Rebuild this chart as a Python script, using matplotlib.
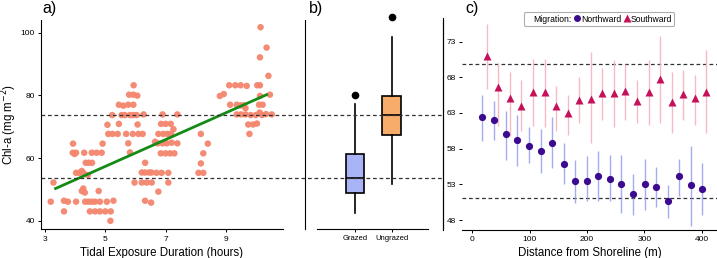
import numpy as np
import matplotlib
matplotlib.use("Agg")
import matplotlib.pyplot as plt
from matplotlib.lines import Line2D
import matplotlib.transforms as mtransforms

plt.rcParams['font.family'] = ['Liberation Sans', 'DejaVu Sans']

# ---------------- data: panel a ----------------
exposure_hours = [
    3.19, 3.28, 3.63, 3.63, 3.76, 3.93, 3.92, 3.98, 4.03, 4.03,
    4.03, 4.14, 4.22, 4.27, 4.30, 4.35, 4.45, 4.56, 4.22, 4.27, 4.32, 4.42,
    4.33, 4.44, 4.55, 4.66, 4.82, 5.05, 4.55, 4.71, 4.88, 4.91, 4.78,
    4.49, 4.66, 4.82, 5.00, 5.18, 5.17, 5.27,
    5.07, 5.10, 5.24, 5.41, 5.23, 5.54, 5.65, 5.82, 5.93, 6.04,
    5.45, 5.60, 5.76, 5.93, 5.45, 5.69, 5.79, 5.93, 6.06, 5.94,
    5.76, 5.82, 6.07, 5.91, 6.10, 6.24, 6.27,
    5.97, 6.21, 6.37, 6.54, 6.32, 6.21, 6.32, 6.45, 6.53, 6.32, 6.52,
    6.65, 6.70, 6.87, 6.76, 6.76, 6.92, 7.06, 6.85, 7.00, 7.17,
    6.90, 7.39, 6.84, 7.00, 7.15, 7.29, 6.74, 6.90, 7.04, 7.20, 7.39,
    7.09, 7.09, 7.18, 7.26,
    8.09, 8.25, 8.17, 8.17, 8.25, 8.40,
    8.80, 8.93, 9.11, 9.31, 9.49, 9.69, 10.04, 10.13,
    9.14, 9.36, 9.49, 9.60, 10.10, 10.22,
    9.36, 9.50, 9.65, 9.82, 9.99, 10.12, 10.20, 10.33, 10.52,
    9.65, 9.74, 9.90, 10.03, 9.78, 10.13, 10.41, 10.46, 10.15, 10.35, 10.13,
]
chla_values = [
    46.1, 52.2, 46.4, 43.0, 46.1, 64.6, 61.7, 61.3, 61.7, 46.1,
    55.3, 55.3, 55.9, 55.3, 61.7, 58.5, 58.5, 58.5, 49.5, 50.3, 49.0, 54.6,
    46.1, 46.1, 46.1, 46.1, 46.1, 46.1, 61.7, 61.7, 61.7, 64.6, 49.5,
    43.0, 43.0, 43.0, 43.0, 43.0, 40.0, 46.4,
    70.6, 67.7, 67.7, 67.7, 73.7, 73.7, 73.7, 73.7, 73.7, 73.7,
    77.0, 76.7, 77.0, 77.0, 70.9, 67.7, 80.2, 80.2, 79.9, 83.2,
    64.7, 61.8, 70.7, 67.7, 67.7, 67.7, 73.9,
    52.2, 52.2, 52.2, 52.2, 58.5, 55.4, 55.4, 55.4, 55.4, 46.4, 45.8,
    65.2, 55.3, 55.3, 49.3, 67.7, 67.7, 67.7, 70.9, 70.9, 70.9,
    73.9, 73.9, 61.5, 61.5, 61.5, 61.5, 64.7, 64.7, 64.7, 64.9, 64.7,
    55.3, 52.2, 67.7, 69.2,
    55.3, 55.3, 58.3, 67.7, 61.5, 64.6,
    79.8, 80.4, 83.2, 83.2, 83.2, 83.0, 83.2, 83.2,
    77.0, 77.0, 76.8, 76.8, 77.0, 77.0,
    73.9, 73.9, 73.9, 73.7, 73.7, 74.5, 73.7, 74.0, 73.9,
    75.9, 70.7, 70.7, 71.0, 67.7, 79.8, 86.2, 80.2, 101.7, 95.2, 92.1,
]
fit_hours = [3.35, 10.35]
fit_chla = [50.3, 80.2]
reference_levels_ab = [73.7, 53.8]

# ---------------- data: panel b ----------------
groups = ["Grazed", "Ungrazed"]
box_stats = [
    dict(label="Grazed", med=53.8, q1=48.9, q3=61.3, whislo=42.6, whishi=77.1, fliers=[80.1]),
    dict(label="Ungrazed", med=73.7, q1=67.4, q3=79.9, whislo=51.7, whishi=98.5, fliers=[104.9]),
]
box_colors = ["#A9B4F6", "#F8AC6C"]

# ---------------- data: panel c ----------------
north_distance = [17.5, 38, 58, 78.5, 99, 119, 139.5, 159.5, 179, 199.5,
                  219.5, 240, 260, 280, 300.5, 320, 340.5, 360.5, 380.5, 401]
north_mean = [62.4, 62.0, 60.0, 59.2, 58.4, 57.7, 58.8, 55.9, 53.4, 53.5,
              54.2, 53.8, 53.1, 51.7, 53.0, 52.6, 50.6, 54.1, 52.9, 52.3]
north_low = [59.1, 59.2, 56.4, 55.6, 56.0, 54.6, 55.3, 53.0, 50.4, 50.6,
             50.6, 50.6, 49.0, 48.7, 49.4, 49.8, 48.3, 51.4, 47.2, 48.7]
north_high = [65.5, 64.7, 63.3, 62.7, 61.0, 60.7, 62.5, 58.8, 56.4, 57.0,
              57.6, 57.1, 57.1, 54.4, 56.6, 55.4, 52.9, 56.6, 58.4, 56.0]

south_distance = [25.5, 45.5, 65, 85.5, 106, 126, 146.5, 166.5, 186.5, 207,
                  226.5, 246.5, 267, 287.5, 307.5, 328, 347.5, 368, 387.5, 408]
south_mean = [71.0, 66.6, 65.1, 64.0, 65.9, 65.9, 64.0, 63.0, 64.8, 65.0,
              65.8, 65.8, 66.1, 64.7, 65.9, 67.8, 64.5, 65.7, 65.1, 65.9]
south_low = [66.4, 61.1, 59.8, 60.4, 61.2, 61.0, 60.4, 59.9, 61.6, 58.8,
             62.0, 61.0, 62.0, 61.6, 61.3, 61.6, 60.2, 62.0, 61.3, 60.2]
south_high = [75.4, 70.0, 68.7, 67.6, 70.6, 70.6, 66.8, 65.5, 68.1, 71.5,
              69.3, 70.4, 69.8, 67.6, 70.4, 73.8, 68.7, 69.0, 68.3, 71.8]
reference_levels_c = [69.8, 51.1]

# ---------------- figure ----------------
W, H = 717, 258
fig = plt.figure(figsize=(W / 100, H / 100), dpi=100)

def px_axes(x0, y0, x1, y1):
    return fig.add_axes([x0 / W, 1 - y1 / H, (x1 - x0) / W, (y1 - y0) / H])

tick_fs = 6
label_fs = 8.3

# ---- panel a ----
ax_a = px_axes(41, 20, 283, 229.3)
ax_a.scatter(exposure_hours, chla_values, s=22, color="#F4866E", alpha=0.95,
             edgecolors="none", zorder=2)
ax_a.plot(fit_hours, fit_chla, color="#158B15", lw=2.0, zorder=3)
ax_a.set_xlim(2.867, 10.894)
ax_a.set_ylim(37.3, 104.0)
ax_a.set_xticks([3, 5, 7, 9])
ax_a.set_yticks([40, 60, 80, 100])
ax_a.spines[['top', 'right']].set_visible(False)
ax_a.tick_params(labelsize=tick_fs, length=2.5, width=0.7, pad=2)
ax_a.set_xlabel("Tidal Exposure Duration (hours)", fontsize=label_fs, labelpad=3)
ax_a.set_ylabel(r"Chl-a (mg m$^{-2}$)", fontsize=label_fs, va='center')
ax_a.yaxis.set_label_coords((9 - 41) / 242, 0.5)

# dashed reference lines spanning panels a and b
trans = mtransforms.blended_transform_factory(fig.transFigure, ax_a.transData)
for lvl in reference_levels_ab:
    fig.add_artist(Line2D([41 / W, 442 / W], [lvl, lvl], transform=trans,
                          color="#333333", lw=0.9, ls=(0, (3, 2.2))))

# ---- panel b ----
ax_b = px_axes(305.3, 20, 442.5, 229.3)
bp = ax_b.bxp(box_stats, positions=[1, 2], widths=0.5, patch_artist=True,
              showcaps=False,
              flierprops=dict(marker='o', markerfacecolor='black', markeredgecolor='black',
                              markersize=4.5),
              medianprops=dict(color='black', lw=1.2),
              whiskerprops=dict(color='black', lw=1.2),
              boxprops=dict(edgecolor='black', lw=1.2))
for patch, c in zip(bp['boxes'], box_colors):
    patch.set_facecolor(c)
for fl in bp['fliers']:
    fl.set_clip_on(False)
ax_b.set_xlim(-0.362, 3.397)
ax_b.set_ylim(37.3, 104.0)
ax_b.set_yticks([])
ax_b.set_xticks([1, 2])
ax_b.set_xticklabels(groups)
ax_b.spines['top'].set_visible(False)
ax_b.spines['bottom'].set_bounds(-0.05, 3.0)
ax_b.tick_params(axis='x', labelsize=5.5, length=2, width=0.7, pad=2)
for s in ['left', 'right', 'bottom']:
    ax_b.spines[s].set_linewidth(0.8)

# ---- panel c ----
ax_c = px_axes(462, 18, 717, 230)
north_col = "#3B0A8F"
south_col = "#C5105A"
ax_c.vlines(north_distance, north_low, north_high, color="#8F98EE", lw=1.0, alpha=0.8, zorder=2)
ax_c.vlines(south_distance, south_low, south_high, color="#F6B3BE", lw=1.0, alpha=0.9, zorder=2)
ax_c.plot(north_distance, north_mean, 'o', color=north_col, ms=5.2, zorder=3, mec='none')
ax_c.plot(south_distance, south_mean, '^', color=south_col, ms=6.2, zorder=3, mec='none')
for lvl in reference_levels_c:
    ax_c.axhline(lvl, color="#333333", lw=0.9, ls=(0, (3, 2.2)), zorder=1)
ax_c.set_xlim(-18, 426.7)
ax_c.set_ylim(46.6, 76.3)
ax_c.set_xticks([0, 100, 200, 300, 400])
ax_c.set_yticks([48, 53, 58, 63, 68, 73])
ax_c.spines[['top', 'right', 'left']].set_visible(False)
ax_c.tick_params(labelsize=tick_fs, length=2.5, width=0.7, pad=2)
ax_c.set_xlabel("Distance from Shoreline (m)", fontsize=label_fs, labelpad=3)

# vertical line between b and c
fig.add_artist(Line2D([443 / W, 443 / W], [1 - 230 / H, 1 - 18 / H], color="black", lw=0.8))

handles = [Line2D([], [], ls='none'),
           Line2D([], [], ls='none', marker='o', color=north_col, ms=5.0, mec='none'),
           Line2D([], [], ls='none', marker='^', color=south_col, ms=6.0, mec='none')]
leg = ax_c.legend(handles, ["Migration:", "Northward", "Southward"], ncol=3,
                  loc='center', bbox_to_anchor=((599 - 462) / 255, 1 + (18 - 19) / 212),
                  fontsize=6.2, frameon=True, fancybox=True, handlelength=0.7,
                  handletextpad=0.1, columnspacing=0.3, borderpad=0.3,
                  edgecolor="#999999")
leg.get_frame().set_linewidth(0.8)
leg.set_clip_on(False)

# panel labels
fig.text(42 / W, 1 - 8 / H, "a)", fontsize=11.5, va='center', ha='left')
fig.text(309 / W, 1 - 8 / H, "b)", fontsize=11.5, va='center', ha='left')
fig.text(465 / W, 1 - 8 / H, "c)", fontsize=11.5, va='center', ha='left')

fig.savefig("out.png", dpi=100)
